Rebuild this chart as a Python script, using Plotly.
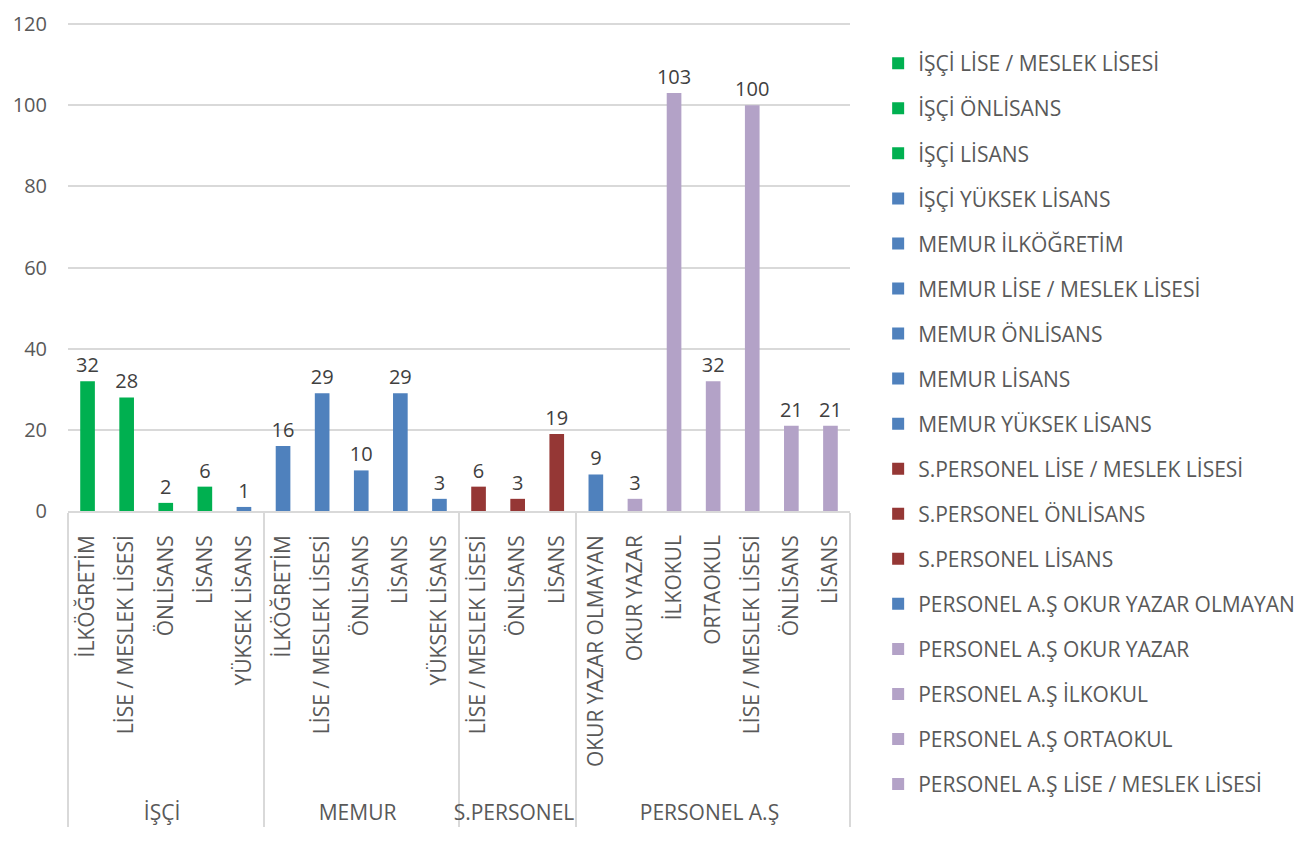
import plotly.graph_objects as go

groups = ["İŞÇİ"] * 5 + ["MEMUR"] * 5 + ["S.PERSONEL"] * 3 + ["PERSONEL A.Ş"] * 7
levels = [
    "İLKÖĞRETİM", "LİSE / MESLEK LİSESİ", "ÖNLİSANS", "LİSANS", "YÜKSEK LİSANS",
    "İLKÖĞRETİM", "LİSE / MESLEK LİSESİ", "ÖNLİSANS", "LİSANS", "YÜKSEK LİSANS",
    "LİSE / MESLEK LİSESİ", "ÖNLİSANS", "LİSANS",
    "OKUR YAZAR OLMAYAN", "OKUR YAZAR", "İLKOKUL", "ORTAOKUL", "LİSE / MESLEK LİSESİ", "ÖNLİSANS", "LİSANS",
]
values = [32, 28, 2, 6, 1,
          16, 29, 10, 29, 3,
          6, 3, 19,
          9, 3, 103, 32, 100, 21, 21]
color_keys = ["g", "g", "g", "g", "b",
              "b", "b", "b", "b", "b",
              "r", "r", "r",
              "b", "p", "p", "p", "p", "p", "p"]
palette = {"g": "#00B050", "b": "#4F81BD", "r": "#953735", "p": "#B3A2C7"}
# legend shows only these entries (as in the reference)
legend_names = [
    "İŞÇİ LİSE / MESLEK LİSESİ", "İŞÇİ ÖNLİSANS", "İŞÇİ LİSANS", "İŞÇİ YÜKSEK LİSANS",
    "MEMUR İLKÖĞRETİM", "MEMUR LİSE / MESLEK LİSESİ", "MEMUR ÖNLİSANS", "MEMUR LİSANS",
    "MEMUR YÜKSEK LİSANS", "S.PERSONEL LİSE / MESLEK LİSESİ", "S.PERSONEL ÖNLİSANS",
    "S.PERSONEL LİSANS", "PERSONEL A.Ş OKUR YAZAR OLMAYAN", "PERSONEL A.Ş OKUR YAZAR",
    "PERSONEL A.Ş İLKOKUL", "PERSONEL A.Ş ORTAOKUL", "PERSONEL A.Ş LİSE / MESLEK LİSESİ",
]
y_ticks = [0, 20, 40, 60, 80, 100, 120]

FONT = "Open Sans"
TXT = "#595959"

# plotly orders inner multicategory labels by first appearance across all groups;
# an invisible zero-width suffix per group keeps each group's own order.
group_order = list(dict.fromkeys(groups))
inner_keys = [lv + "\u200b" * group_order.index(g) for g, lv in zip(groups, levels)]
# group labels sit one line lower, as in the reference
group_keys = ["<br>" + g for g in groups]

fig = go.Figure()
for g, gk, lv, key, v, ck in zip(groups, group_keys, levels, inner_keys, values, color_keys):
    name = f"{g} {lv}"
    fig.add_trace(go.Bar(
        x=[[gk], [key]], y=[v], name=name,
        marker=dict(color=palette[ck], line=dict(width=0)),
        width=0.375,
        text=[str(v)], textposition="outside", cliponaxis=False,
        constraintext="none",
        textfont=dict(family=FONT, size=20, color="#404040"),
        showlegend=name in legend_names,
        legendgroup=name,
        hovertemplate=f"{name}: %{{y}}<extra></extra>",
    ))

fig.update_layout(
    width=1314, height=857,
    margin=dict(l=60, r=472, t=12, b=354),
    paper_bgcolor="white", plot_bgcolor="white",
    barmode="overlay",
    font=dict(family=FONT, size=20, color=TXT),
    legend=dict(
        x=1.036, y=0.953, xanchor="left", yanchor="top",
        font=dict(family=FONT, size=21, color=TXT),
        tracegroupgap=14.75, traceorder="grouped",
        itemwidth=30, maxheight=850,
    ),
    xaxis=dict(
        type="multicategory",
        tickangle=-90,
        tickfont=dict(family=FONT, size=21, color=TXT),
        ticklabelstandoff=14,
        showdividers=True, dividercolor="#D9D9D9", dividerwidth=1.5,
        showline=True, linecolor="#D9D9D9", linewidth=1.5,
        ticks="", showgrid=False, automargin=False,
    ),
    yaxis=dict(
        range=[0, 121], tickvals=y_ticks,
        showgrid=True, gridcolor="#D9D9D9", gridwidth=1.5,
        zeroline=False, showline=False,
        tickfont=dict(family=FONT, size=20, color=TXT),
        ticklabelstandoff=20, automargin=False,
        ticklabeloverflow="allow",
    ),
)

fig.write_html("out.html")
